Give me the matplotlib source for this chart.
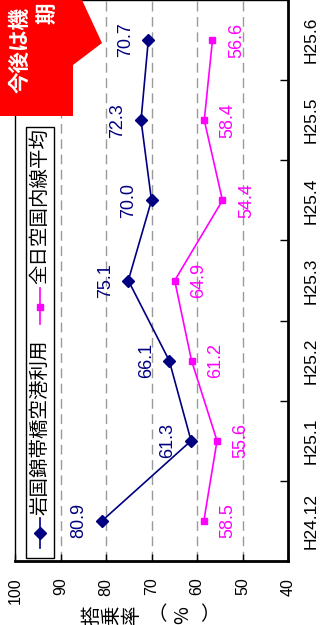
import matplotlib
matplotlib.use("Agg")
import matplotlib.pyplot as plt
from matplotlib.patches import Polygon, Rectangle
from matplotlib.lines import Line2D

# ---- data ----
months = ["H24.12", "H25.1", "H25.2", "H25.3", "H25.4", "H25.5", "H25.6"]
iwakuni = [80.9, 61.3, 66.1, 75.1, 70.0, 72.3, 70.7]
ana_avg = [58.5, 55.6, 61.2, 64.9, 54.4, 58.4, 56.6]
series_names = ["岩国錦帯橋空港利用", "全日空国内線平均"]
value_ticks = [100, 90, 80, 70, 60, 50, 40]
axis_title = ["搭", "乗", "率", "（", "%", "）"]
callout_lines = ["今後は機", "期"]

W, H = 328, 625
DPI = 100
NAVY = "#000080"
MAGENTA = "#FF00FF"
NUM_FONT = "Liberation Sans"
JP_FONT = ["Noto Sans CJK JP", "DejaVu Sans"]

fig = plt.figure(figsize=(W / DPI, H / DPI), dpi=DPI)
fig.patch.set_facecolor("white")


def fx(px):
    return px / W


def fy(py):
    return 1 - py / H


# plot area: value axis runs horizontally (100 at left), months run upward
ax = fig.add_axes([fx(15), fy(561), fx(288) - fx(15), fy(0) - fy(561)])
ax.set_xlim(100, 40)
ax.set_ylim(-0.5, len(months) - 0.5)

pos = list(range(len(months)))

for v in value_ticks[1:-1]:
    ax.axvline(v, color="#9a9a9a", lw=1.0, ls=(0, (7, 4)), zorder=1)

ax.plot(iwakuni, pos, color=NAVY, lw=1.2, marker="D", ms=6.5,
        mfc=NAVY, mec=NAVY, zorder=3)
ax.plot(ana_avg, pos, color=MAGENTA, lw=1.2, marker="s", ms=5,
        mfc=MAGENTA, mec=MAGENTA, zorder=3)

for v, p in zip(iwakuni, pos):
    ax.annotate(f"{v:.1f}", (v, p), xytext=(-23, 0), textcoords="offset pixels",
                rotation=90, ha="center", va="center", color=NAVY,
                fontsize=13, family=NUM_FONT, zorder=4)
for v, p in zip(ana_avg, pos):
    ax.annotate(f"{v:.1f}", (v, p), xytext=(24, 0), textcoords="offset pixels",
                rotation=90, ha="center", va="center", color=MAGENTA,
                fontsize=13, family=NUM_FONT, zorder=4)

# value axis along the bottom
ax.set_xticks(value_ticks)
ax.set_xticklabels([str(v) for v in value_ticks], rotation=90,
                   family=NUM_FONT, fontsize=11.5, va="top", ha="center")
ax.tick_params(axis="x", direction="in", length=5, width=1, pad=12,
               colors="black")

# month axis along the right side
ax.yaxis.tick_right()
ax.set_yticks(pos)
ax.set_yticklabels(months, rotation=90, family=NUM_FONT, fontsize=12.5,
                   va="center", ha="left")
ax.set_yticks([p + 0.5 for p in pos[:-1]], minor=True)
ax.tick_params(axis="y", which="major", length=0, pad=11)
ax.tick_params(axis="y", which="minor", direction="in", length=6, width=1,
               right=True, left=False)

for side in ["left", "top"]:
    ax.spines[side].set_linewidth(1.0)
for side in ["bottom", "right"]:
    ax.spines[side].set_linewidth(2.0)
ax.set_facecolor("white")

# legend, laid out along the left edge
fig.patches.append(Rectangle((fx(26), fy(558)), fx(54) - fx(26), fy(127) - fy(558),
                             transform=fig.transFigure, fill=False,
                             ec="black", lw=1.0, zorder=5))
fig.lines.append(Line2D([fx(40), fx(40)], [fy(548), fy(518)],
                        transform=fig.transFigure, color=NAVY, lw=1.2,
                        zorder=6))
fig.lines.append(Line2D([fx(40)], [fy(533)], transform=fig.transFigure,
                        color=NAVY, marker="D", ms=6.5, ls="none", zorder=6))
fig.lines.append(Line2D([fx(40), fx(40)], [fy(324), fy(288)],
                        transform=fig.transFigure, color=MAGENTA, lw=1.2,
                        zorder=6))
fig.lines.append(Line2D([fx(40)], [fy(307)], transform=fig.transFigure,
                        color=MAGENTA, marker="s", ms=5, ls="none", zorder=6))
fig.text(fx(40), fy(515), series_names[0], rotation=90, rotation_mode="anchor",
         ha="left", va="center", family=JP_FONT, fontsize=14, color="black",
         zorder=6)
fig.text(fx(40), fy(284), series_names[1], rotation=90, rotation_mode="anchor",
         ha="left", va="center", family=JP_FONT, fontsize=14, color="black",
         zorder=6)

# axis title, one character at a time
title_x = [92, 112, 132, 157, 183, 210]
for ch, x in zip(axis_title, title_x):
    rot = 0 if ch in "（）" else 90
    fig.text(fx(x), fy(615), ch, rotation=rot, ha="center", va="center",
             family=JP_FONT, fontsize=14, color="black")

# red callout in the top-left corner
fig.patches.append(Polygon([(fx(0), fy(0)), (fx(82), fy(0)), (fx(102), fy(43)),
                            (fx(73), fy(65)), (fx(73), fy(116)), (fx(0), fy(116))],
                           closed=True, transform=fig.transFigure,
                           fc="#FF0000", ec="none", zorder=10))
fig.text(fx(20), fy(93), callout_lines[0], rotation=90, rotation_mode="anchor",
         ha="left", va="center", family=JP_FONT, fontsize=15.5, weight="bold",
         color="white", zorder=11)
fig.text(fx(47), fy(24), callout_lines[1], rotation=90, rotation_mode="anchor",
         ha="left", va="center", family=JP_FONT, fontsize=15.5, weight="bold",
         color="white", zorder=11)

fig.savefig("out.png", dpi=DPI, facecolor="white")
